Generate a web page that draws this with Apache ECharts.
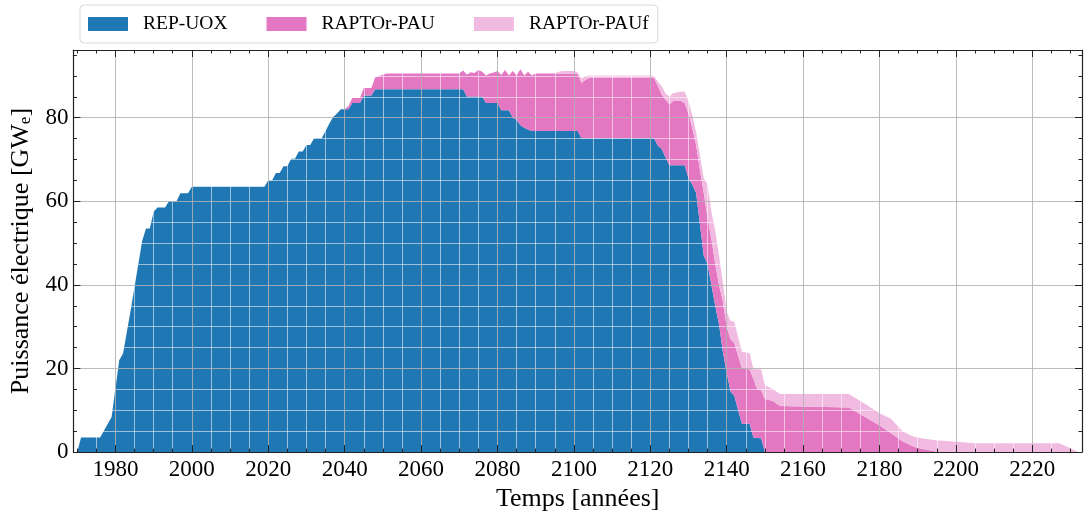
<!DOCTYPE html>
<html>
<head>
<meta charset="utf-8">
<script src="https://cdn.jsdelivr.net/npm/echarts@6/dist/echarts.min.js"></script>
<style>
  html, body { margin: 0; padding: 0; background: #ffffff; }
  #chart { width: 1084px; height: 517px; }
</style>
</head>
<body>
<div id="chart"></div>
<script>
// Years at which the installed capacities are sampled (GWe)
const years = [
  1970, 1971, 1976, 1979, 1981, 1982, 1984, 1986, 1987, 1988, 1989, 1990, 1991, 1993, 1994, 1996, 1997, 1999,
  2000, 2019, 2020, 2021, 2022, 2023, 2024, 2025, 2026, 2027, 2028, 2029, 2030, 2031, 2032, 2034, 2035, 2036,
  2037, 2038, 2039, 2040, 2041, 2042, 2044, 2045, 2047, 2048, 2049, 2050, 2051, 2070, 2071, 2072, 2073, 2074,
  2075, 2076, 2077, 2078, 2079, 2080, 2081, 2082, 2083, 2084, 2085, 2086, 2087, 2088, 2089, 2090, 2095, 2096,
  2097, 2100, 2101, 2102, 2103, 2104, 2120, 2121, 2122, 2123, 2124, 2125, 2126, 2128, 2129, 2130, 2131, 2132,
  2133, 2134, 2135, 2136, 2137, 2138, 2139, 2140, 2141, 2142, 2143, 2144, 2146, 2147, 2148, 2149, 2150, 2152,
  2154, 2172, 2177, 2180, 2183, 2186, 2189, 2191, 2195, 2197, 2200, 2205, 2227, 2230, 2232
];

// REP-UOX fleet
const repUox = [
  0, 3.5, 3.5, 8.4, 22.0, 23.6, 34.0, 45.0, 50.5, 53.5, 53.5, 57.5, 58.5, 58.5, 60.0, 60.0, 61.9, 61.9,
  63.5, 63.5, 65.0, 65.0, 66.8, 66.8, 68.4, 68.4, 70.2, 70.2, 71.9, 71.9, 73.5, 73.5, 75.1, 75.1, 76.8, 78.6,
  80.2, 81.0, 82.0, 82.0, 82.0, 83.5, 83.5, 85.3, 85.3, 86.8, 86.8, 86.8, 86.8, 86.8, 86.8, 85.1, 85.1, 85.1,
  85.1, 85.1, 83.5, 83.5, 83.5, 83.5, 81.8, 81.8, 81.8, 80.0, 79.6, 78.2, 77.6, 77.2, 76.8, 76.8, 76.8, 76.8,
  76.8, 76.8, 76.8, 75.1, 75.1, 75.1, 75.1, 75.1, 73.3, 72.5, 70.5, 68.6, 68.6, 68.6, 68.6, 65.5, 64.0, 62.0,
  54.5, 47.0, 45.0, 40.0, 35.0, 30.5, 24.0, 19.0, 14.5, 13.5, 10.0, 6.8, 6.8, 3.5, 3.4, 3.3, 0, 0,
  0, 0, 0, 0, 0, 0, 0, 0, 0, 0, 0, 0, 0, 0, 0
];

// RAPTOr-PAU fleet
const raptorPau = [
  0, 0, 0, 0, 0, 0, 0, 0, 0, 0, 0, 0, 0, 0, 0, 0, 0, 0,
  0, 0, 0, 0, 0, 0, 0, 0, 0, 0, 0, 0, 0, 0, 0, 0, 0, 0,
  0, 0, 0, 0, 0.8, 1.2, 1.2, 1.8, 1.8, 2.9, 3.1, 3.5, 3.8, 3.8, 4.5, 5.2, 5.8, 5.6,
  6.3, 5.9, 6.6, 7.1, 7.3, 7.7, 8.4, 9.6, 8.3, 11.2, 10.5, 13.4, 12.5, 13.8, 13.3, 13.8, 13.8, 13.8,
  13.8, 13.8, 13.6, 13.2, 13.9, 14.4, 14.4, 14.4, 14.2, 13.0, 13.8, 14.6, 15.4, 15.4, 14.9, 15.5, 13.5, 11.5,
  13.0, 15.0, 11.0, 11.0, 10.0, 9.5, 12.0, 11.0, 12.5, 12.6, 13.0, 13.2, 13.0, 14.0, 11.6, 11.5, 12.7, 12.3,
  11.0, 10.7, 8.0, 6.4, 4.5, 2.6, 1.3, 0.8, 0.1, 0, 0, 0, 0, 0, 0
];

// RAPTOr-PAUf fleet
const raptorPauf = [
  0, 0, 0, 0, 0, 0, 0, 0, 0, 0, 0, 0, 0, 0, 0, 0, 0, 0,
  0, 0, 0, 0, 0, 0, 0, 0, 0, 0, 0, 0, 0, 0, 0, 0, 0, 0,
  0, 0, 0, 0, 0, 0, 0, 0, 0, 0, 0, 0, 0, 0, 0, 0, 0, 0,
  0, 0, 0, 0, 0, 0, 0, 0, 0, 0, 0, 0, 0, 0, 0, 0, 0, 0.4,
  0.6, 0.6, 0.4, 1.1, 0.9, 0.6, 0.6, 0.5, 1.1, 2.0, 1.5, 1.9, 1.9, 2.2, 2.8, 3.0, 3.0, 3.0,
  3.5, 3.5, 8.0, 6.5, 8.0, 7.0, 4.5, 3.5, 4.4, 5.1, 4.5, 4.0, 3.9, 2.3, 4.8, 5.0, 3.3, 2.8,
  2.9, 3.2, 3.1, 2.9, 3.5, 2.4, 2.4, 2.5, 2.7, 2.7, 2.5, 2.1, 2.1, 0.9, 0
];

// Axis tick values
const majorYears = [1980, 2000, 2020, 2040, 2060, 2080, 2100, 2120, 2140, 2160, 2180, 2200, 2220];
const minorYears = [1970, 1975, 1985, 1990, 1995, 2005, 2010, 2015, 2025, 2030, 2035, 2045, 2050, 2055,
  2065, 2070, 2075, 2085, 2090, 2095, 2105, 2110, 2115, 2125, 2130, 2135, 2145, 2150, 2155, 2165, 2170,
  2175, 2185, 2190, 2195, 2205, 2210, 2215, 2225, 2230];
const majorPower = [0, 20, 40, 60, 80];
const minorPower = [5, 10, 15, 25, 30, 35, 45, 50, 55, 65, 70, 75, 85, 90, 95];

const seriesNames = ['REP-UOX', 'RAPTOr-PAU', 'RAPTOr-PAUf'];
const seriesColors = ['#1f77b4', '#e377c2', '#f1bbe1'];

const FONT = 'Liberation Serif';
const X_MIN = 1969, X_MAX = 2233, Y_MIN = 0, Y_MAX = 96.2;

function xAxisDef(position, ticks, len, showLine, showLabels) {
  return {
    type: 'value', position: position, min: X_MIN, max: X_MAX, z: 10,
    axisLine: { show: showLine, onZero: false, lineStyle: { color: '#222', width: 1.2 } },
    axisTick: { show: true, inside: true, length: len, customValues: ticks, lineStyle: { color: '#222', width: 1 } },
    axisLabel: showLabels
      ? { show: true, customValues: ticks, margin: 6, color: '#000', fontFamily: FONT, fontSize: 23,
          formatter: function (v) { return String(v); } }
      : { show: false },
    splitLine: { show: false }
  };
}
function yAxisDef(position, ticks, len, showLine, showLabels) {
  return {
    type: 'value', position: position, min: Y_MIN, max: Y_MAX, z: 10,
    axisLine: { show: showLine, onZero: false, lineStyle: { color: '#222', width: 1.2 } },
    axisTick: { show: true, inside: true, length: len, customValues: ticks, lineStyle: { color: '#222', width: 1 } },
    axisLabel: showLabels
      ? { show: true, customValues: ticks, margin: 5, color: '#000', fontFamily: FONT, fontSize: 23,
          formatter: function (v) { return String(v); } }
      : { show: false },
    splitLine: { show: false }
  };
}

const xAxes = [
  xAxisDef('bottom', majorYears, 7, true, true),
  xAxisDef('bottom', minorYears, 3.5, false, false),
  xAxisDef('top', majorYears, 7, true, false),
  xAxisDef('top', minorYears, 3.5, false, false)
];
xAxes[0].name = 'Temps [années]';
xAxes[0].nameLocation = 'middle';
xAxes[0].nameGap = 29;
xAxes[0].nameTextStyle = { fontFamily: FONT, fontSize: 26, color: '#000' };

const yAxes = [
  yAxisDef('left', majorPower, 7, true, true),
  yAxisDef('left', minorPower, 3.5, false, false),
  yAxisDef('right', majorPower, 7, true, false),
  yAxisDef('right', minorPower, 3.5, false, false)
];
yAxes[0].name = '{t|Puissance électrique [GW}{s|e}{t|]}';
yAxes[0].nameLocation = 'middle';
yAxes[0].nameGap = 32;
yAxes[0].nameTextStyle = {
  color: '#000',
  rich: {
    t: { fontFamily: FONT, fontSize: 26, color: '#000' },
    s: { fontFamily: FONT, fontSize: 17, color: '#000', verticalAlign: 'bottom', padding: [10, 0, 0, 0] }
  }
};

// Stacked areas: each point is [power, year] so the power dimension comes first and is the one stacked
const stacked = seriesNames.map(function (name, k) {
  const vals = [repUox, raptorPau, raptorPauf][k];
  return {
    name: name,
    type: 'line',
    stack: 'fleet',
    xAxisIndex: 0,
    yAxisIndex: 0,
    encode: { x: 1, y: 0 },
    showSymbol: false,
    symbol: 'none',
    silent: true,
    lineStyle: { width: 0 },
    itemStyle: { color: seriesColors[k] },
    areaStyle: { color: seriesColors[k], opacity: 1 },
    data: years.map(function (y, i) { return [vals[i], y]; }),
    z: 2
  };
});

// Grid lines drawn over the filled areas
function gridLines(values, axisKey, color) {
  return values.map(function (v) { const o = {}; o[axisKey] = v; o.lineStyle = { color: color, width: 1, type: 'solid' }; return o; });
}
const gridSeries = {
  name: 'grid',
  type: 'line',
  xAxisIndex: 0,
  yAxisIndex: 0,
  data: [],
  silent: true,
  markLine: {
    silent: true,
    symbol: ['none', 'none'],
    label: { show: false },
    animation: false,
    emphasis: { disabled: true },
    data: []
      .concat(gridLines(minorYears, 'xAxis', 'rgba(255,255,255,0.55)'))
      .concat(gridLines(minorPower, 'yAxis', 'rgba(255,255,255,0.55)'))
      .concat(gridLines(majorYears, 'xAxis', 'rgba(176,176,176,0.85)'))
      .concat(gridLines(majorPower.slice(1), 'yAxis', 'rgba(176,176,176,0.85)'))
  }
};

const chart = echarts.init(document.getElementById('chart'), null, { renderer: 'canvas' });
chart.setOption({
  animation: false,
  backgroundColor: '#ffffff',
  grid: { left: 70, right: 2, top: 50, bottom: 60, containLabel: false },
  legend: {
    data: seriesNames,
    left: 80,
    top: 5,
    orient: 'horizontal',
    icon: 'rect',
    itemWidth: 40,
    itemHeight: 14,
    itemGap: 39,
    padding: [9, 9, 9, 8],
    borderColor: '#d9d9d9',
    borderWidth: 1,
    borderRadius: 4,
    backgroundColor: '#ffffff',
    textStyle: { fontFamily: FONT, fontSize: 19.5, color: '#000', padding: [0, 0, 0, 10] },
    selectedMode: false
  },
  xAxis: xAxes,
  yAxis: yAxes,
  series: stacked.concat([gridSeries])
});
</script>
</body>
</html>
